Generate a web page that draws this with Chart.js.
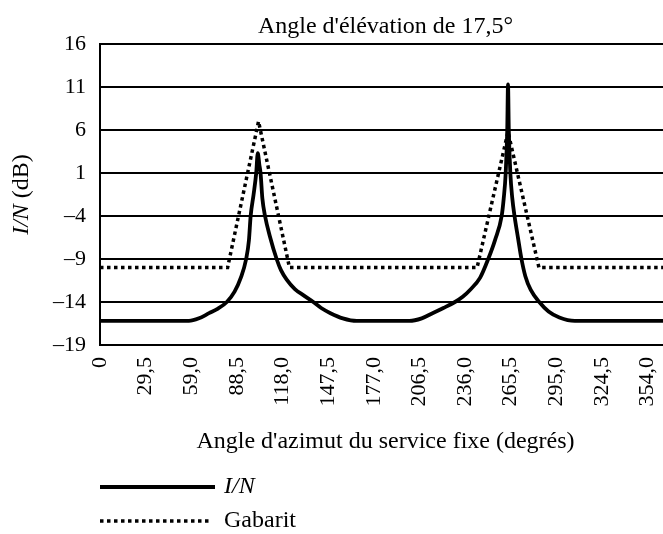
<!DOCTYPE html>
<html>
<head>
<meta charset="utf-8">
<script src="https://cdn.jsdelivr.net/npm/chart.js@4.4.0/dist/chart.umd.min.js"></script>
<style>
  html, body { margin: 0; padding: 0; background: #fff; }
  #wrap { width: 663px; height: 534px; }
</style>
</head>
<body>
<div id="wrap"><canvas id="chart" width="663" height="534"></canvas></div>
<script>
const chartTitle = "Angle d'élévation de 17,5°";
const xAxisTitle = "Angle d'azimut du service fixe (degrés)";
const yAxisTitleItalic = 'I/N';
const yAxisTitleRest = ' (dB)';
const xTickValues = [0, 29.5, 59, 88.5, 118, 147.5, 177, 206.5, 236, 265.5, 295, 324.5, 354];

// I/N curve
const inAzimuths = [0, 57.5, 64, 70.5, 76, 82, 87, 91, 94.5, 96.3, 97.4, 99.3, 101, 102, 103, 103.8, 105, 106.7,
  109.9, 114.2, 117, 120.7, 126, 131.4, 137.9, 143, 149, 157, 166, 200, 208, 215, 222, 229.5, 234.5, 239.2, 245.7, 251,
  255.4, 259.7, 261, 262.3, 263.3, 263.8, 264.3, 265.3, 266.6, 268, 270.3, 272.5, 275, 278.5, 284, 290, 297, 307, 364];
const inValues = [-16.2, -16.2, -15.9, -15.3, -14.8, -14, -12.8, -11.2, -9, -6.8, -4, -1.5, 1, 3.3, 2, 1, -2, -4,
  -6.4, -9, -10.3, -11.4, -12.5, -13.2, -14, -14.7, -15.3, -15.9, -16.2, -16.2, -15.9, -15.3, -14.7, -14, -13.4, -12.6, -11.2, -9,
  -6.8, -4, -2, 1, 6, 11.3, 6, 1, -2, -4, -6.6, -9, -11, -12.6, -14, -15.1, -15.8, -16.2, -16.2];

// mask (Gabarit)
const maskAzimuths = [0, 82.5, 102.5, 122.5, 243.8, 263.8, 283.8, 364];
const maskValues = [-10, -10, 7, -10, -10, 5.8, -10, -10];

const serif = "'Liberation Serif', 'Times New Roman', serif";
Chart.defaults.font.family = serif;
Chart.defaults.font.size = 22;
Chart.defaults.color = '#000';

function toPoints(xs, ys) {
  return xs.map((x, i) => ({ x: x, y: ys[i] }));
}

function formatAzimuth(v) {
  if (v === 0) return '0';
  return v.toFixed(1).replace('.', ',');
}

function formatLevel(v) {
  return v < 0 ? '\u2013' + Math.abs(v) : String(v);
}

const textPlugin = {
  id: 'textPlugin',
  afterDraw(chart) {
    const ctx = chart.ctx;
    const area = chart.chartArea;
    const midX = (area.left + area.right) / 2;
    const big = '24px ' + serif;
    ctx.save();
    ctx.fillStyle = '#000';
    ctx.textBaseline = 'middle';

    // title
    ctx.font = big;
    ctx.textAlign = 'center';
    ctx.fillText(chartTitle, midX + 4, 27);

    // x axis title
    ctx.fillText(xAxisTitle, midX + 4, 442);

    // y axis title, rotated, with italic I/N
    ctx.save();
    ctx.translate(22, (area.top + area.bottom) / 2);
    ctx.rotate(-Math.PI / 2);
    ctx.font = 'italic ' + big;
    const w1 = ctx.measureText(yAxisTitleItalic).width;
    ctx.font = big;
    const w2 = ctx.measureText(yAxisTitleRest).width;
    ctx.textAlign = 'left';
    ctx.font = 'italic ' + big;
    ctx.fillText(yAxisTitleItalic, -(w1 + w2) / 2, 0);
    ctx.font = big;
    ctx.fillText(yAxisTitleRest, -(w1 + w2) / 2 + w1, 0);
    ctx.restore();

    // legend
    const rows = [487, 521];
    chart.data.datasets.forEach((ds, i) => {
      const y = rows[i];
      ctx.save();
      ctx.strokeStyle = ds.borderColor;
      ctx.lineWidth = ds.borderWidth;
      ctx.setLineDash(ds.borderDash || []);
      ctx.beginPath();
      ctx.moveTo(100, y);
      ctx.lineTo(i === 0 ? 215 : 211, y);
      ctx.stroke();
      ctx.restore();
      ctx.textAlign = 'left';
      ctx.font = (i === 0 ? 'italic ' : '') + big;
      ctx.fillText(ds.label, 224, y);
    });
    ctx.restore();
  }
};

new Chart(document.getElementById('chart'), {
  type: 'line',
  data: {
    datasets: [
      {
        label: 'I/N',
        data: toPoints(inAzimuths, inValues),
        borderColor: '#000',
        borderWidth: 3.8,
        pointRadius: 0,
        cubicInterpolationMode: 'monotone',
        fill: false
      },
      {
        label: 'Gabarit',
        data: toPoints(maskAzimuths, maskValues),
        borderColor: '#000',
        borderWidth: 3.5,
        borderDash: [3.5, 3.5],
        borderCapStyle: 'butt',
        pointRadius: 0,
        tension: 0,
        fill: false
      }
    ]
  },
  options: {
    responsive: false,
    animation: false,
    devicePixelRatio: 1,
    layout: { padding: { top: 44, left: 0, right: 0, bottom: 0 } },
    plugins: {
      legend: { display: false },
      title: { display: false },
      tooltip: { enabled: false }
    },
    scales: {
      x: {
        type: 'linear',
        min: 0,
        max: 364,
        afterBuildTicks(scale) {
          scale.ticks = xTickValues.map((v) => ({ value: v }));
        },
        afterFit(scale) {
          scale.height = 189;
          scale.paddingLeft = 0;
          scale.paddingRight = 0;
        },
        grid: { display: false, drawTicks: false },
        border: { display: true, color: '#000', width: 2 },
        ticks: {
          autoSkip: false,
          minRotation: 90,
          maxRotation: 90,
          padding: 12,
          callback: (v) => formatAzimuth(v)
        }
      },
      y: {
        min: -19,
        max: 16,
        afterFit(scale) {
          scale.width = 100;
          scale.paddingTop = 0;
          scale.paddingBottom = 0;
        },
        grid: { color: '#000', lineWidth: 2, drawTicks: false },
        border: { display: true, color: '#000', width: 2 },
        ticks: {
          stepSize: 5,
          padding: 14,
          callback: (v) => formatLevel(v)
        }
      }
    }
  },
  plugins: [textPlugin]
});
</script>
</body>
</html>
